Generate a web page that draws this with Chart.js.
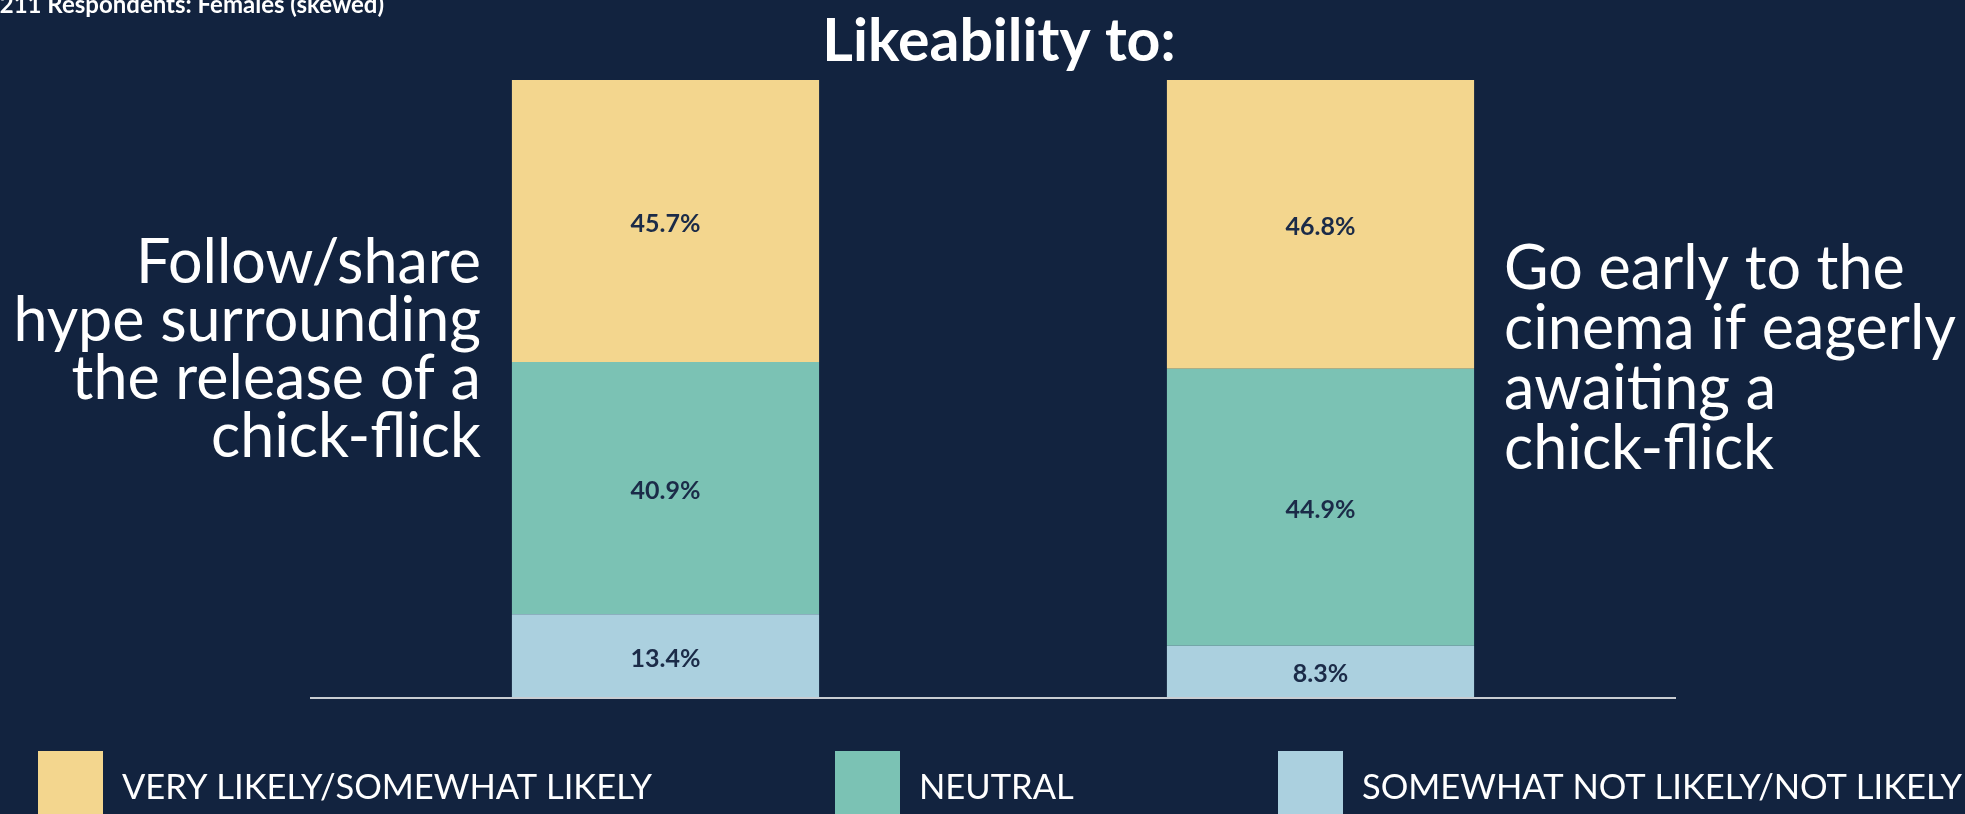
<!DOCTYPE html>
<html>
<head>
<meta charset="utf-8">
<script src="https://cdn.jsdelivr.net/npm/chart.js@4"></script>
<style>
  body { margin: 0; background: #12233f; }
  #wrap { width: 1965px; height: 814px; }
</style>
</head>
<body>
<div id="wrap"><canvas id="chart"></canvas></div>
<script>
// ---- data ----
const categories = [
    ['Follow/share', 'hype surrounding', 'the release of a', 'chick-flick'],
    ['Go early to the', 'cinema if eagerly', 'awaiting a', 'chick-flick']
];
const seriesNames = ['VERY LIKELY/SOMEWHAT LIKELY', 'NEUTRAL', 'SOMEWHAT NOT LIKELY/NOT LIKELY'];
const likely = [45.7, 46.8];
const neutral = [40.9, 44.9];
const notLikely = [13.4, 8.3];

const chartTitle = 'Likeability to:';
const note = '211 Respondents: Females (skewed)';

const COLORS = {
    bg: '#12233f',
    likely: '#f3d68e',
    neutral: '#7bc2b4',
    notLikely: '#abd0df',
    label: '#1b2b48',
    axis: '#c8ccd2'
};
const FONT = 'Lato, "Open Sans", sans-serif';

// Texts, category labels, values and legend drawn on the canvas
const decorPlugin = {
    id: 'decor',
    beforeDraw(chart) {
        const c = chart.ctx;
        c.save();
        c.fillStyle = COLORS.bg;
        c.fillRect(0, 0, chart.width, chart.height);
        c.restore();
    },
    afterDatasetsDraw(chart) {
        const c = chart.ctx;
        const area = chart.chartArea;
        c.save();

        // baseline
        c.strokeStyle = COLORS.axis;
        c.lineWidth = 2;
        c.beginPath();
        c.moveTo(area.left - 28, area.bottom + 1);
        c.lineTo(area.right + 28, area.bottom + 1);
        c.stroke();

        // value labels inside segments
        c.fillStyle = COLORS.label;
        c.font = 'bold 25px ' + FONT;
        c.textAlign = 'center';
        c.textBaseline = 'middle';
        chart.data.datasets.forEach((ds, di) => {
            chart.getDatasetMeta(di).data.forEach((bar, i) => {
                const p = bar.getProps(['x', 'y', 'base'], true);
                c.fillText(ds.data[i].toFixed(1) + '%', p.x, (p.y + p.base) / 2 + 3);
            });
        });

        // category labels beside the bars
        const bars = chart.getDatasetMeta(0).data;
        c.fillStyle = '#ffffff';
        c.font = '61px ' + FONT;
        const b0 = bars[0].getProps(['x', 'width'], true);
        c.textAlign = 'right';
        categories[0].forEach((line, k) => {
            c.fillText(line, b0.x - b0.width / 2 - 31, area.top + 183 + k * 58);
        });
        const b1 = bars[1].getProps(['x', 'width'], true);
        c.textAlign = 'left';
        categories[1].forEach((line, k) => {
            c.fillText(line, b1.x + b1.width / 2 + 30, area.top + 189 + k * 60);
        });

        // title
        c.textAlign = 'center';
        c.font = 'bold 59px ' + FONT;
        c.fillText(chartTitle, 999, 42);

        // note at the top left, partly cut off
        c.textAlign = 'right';
        c.textBaseline = 'alphabetic';
        c.font = 'bold 24px ' + FONT;
        c.fillText(note, 384, 13);

        // legend
        const legendX = [38, 835, 1278];
        const order = [2, 1, 0];
        c.textAlign = 'left';
        c.textBaseline = 'middle';
        c.font = '34.5px ' + FONT;
        order.forEach((di, k) => {
            const ds = chart.data.datasets[di];
            c.fillStyle = ds.backgroundColor;
            c.fillRect(legendX[k], 751, 65, 80);
            c.fillStyle = '#ffffff';
            c.fillText(ds.label, legendX[k] + 84, 788);
        });

        c.restore();
    }
};

new Chart(document.getElementById('chart'), {
    type: 'bar',
    data: {
        labels: categories,
        datasets: [
            { label: seriesNames[2], data: notLikely, backgroundColor: COLORS.notLikely },
            { label: seriesNames[1], data: neutral, backgroundColor: COLORS.neutral },
            { label: seriesNames[0], data: likely, backgroundColor: COLORS.likely }
        ]
    },
    options: {
        responsive: true,
        maintainAspectRatio: false,
        animation: false,
        layout: {
            padding: { left: 338, right: 317, top: 80, bottom: 117 }
        },
        datasets: {
            bar: {
                barPercentage: 0.469,
                categoryPercentage: 1,
                borderWidth: 0
            }
        },
        plugins: {
            legend: { display: false },
            title: { display: false },
            tooltip: { enabled: false }
        },
        scales: {
            x: { stacked: true, display: false },
            y: { stacked: true, display: false, min: 0, max: 100 }
        }
    },
    plugins: [decorPlugin]
});
</script>
</body>
</html>
